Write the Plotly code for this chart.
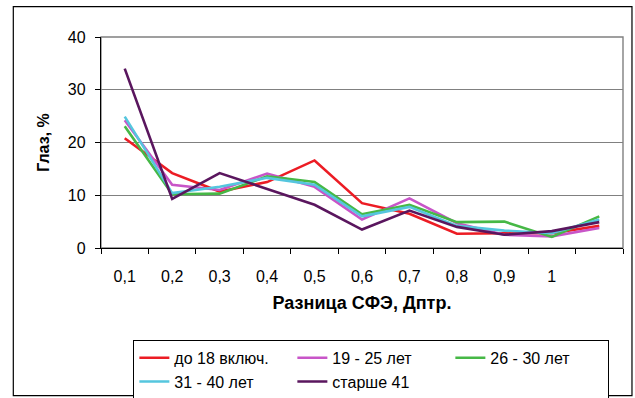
import plotly.graph_objects as go

# Difference in spherical equivalent (dioptres), one category per step
x_labels = ['0,1', '0,2', '0,3', '0,4', '0,5', '0,6', '0,7', '0,8', '0,9', '1', '']
positions = list(range(len(x_labels)))

# Share of eyes (%) per age group
age_to_18 = [20.8, 14.2, 10.7, 12.5, 16.6, 8.5, 6.5, 2.7, 2.8, 2.8, 4.2]
age_19_25 = [24.2, 12.0, 11.0, 14.1, 11.6, 5.4, 9.4, 4.7, 2.5, 2.2, 3.8]
age_26_30 = [23.1, 10.2, 10.3, 13.6, 12.5, 6.4, 8.2, 4.9, 5.0, 2.1, 6.0]
age_31_40 = [24.9, 10.4, 11.6, 13.3, 12.0, 6.0, 7.8, 4.2, 3.3, 2.8, 5.4]
age_over_41 = [34.0, 9.3, 14.2, 11.2, 8.2, 3.5, 7.1, 4.0, 2.5, 3.2, 4.9]

series = [
    ('до 18 включ.', age_to_18, '#ec1c24'),
    ('19 - 25 лет', age_19_25, '#c855c8'),
    ('26 - 30 лет', age_26_30, '#46b846'),
    ('31 - 40 лет', age_31_40, '#55c6de'),
    ('старше 41', age_over_41, '#5a165e'),
]

FONT = 'Liberation Sans, Arial, sans-serif'

fig = go.Figure()
for name, values, color in series:
    fig.add_trace(go.Scatter(
        x=positions, y=values, name=name, mode='lines',
        line=dict(color=color, width=2.6),
    ))

fig.update_layout(
    width=635, height=398,
    margin=dict(l=101, r=12, t=37, b=150, autoexpand=False),
    paper_bgcolor='white', plot_bgcolor='white',
    font=dict(family=FONT, size=16, color='black'),
    showlegend=True,
    legend=dict(
        orientation='h',
        x=0.062, y=-0.435, xanchor='left', yanchor='top',
        entrywidth=113, entrywidthmode='pixels',
        bgcolor='white', bordercolor='black', borderwidth=1,
        font=dict(family=FONT, size=16, color='black'),
        itemwidth=30, tracegroupgap=0,
    ),
    xaxis=dict(
        range=[-0.5, len(x_labels) - 0.5],
        tickmode='array', tickvals=positions, ticktext=x_labels,
        ticks='', showgrid=False, zeroline=False,
        showline=True, linecolor='black', linewidth=1.3,
        tickfont=dict(size=16, family=FONT, color='black'),
        ticklabelstandoff=14,
        minor=dict(
            tickmode='array',
            tickvals=[p + 0.5 for p in positions[:-1]] + [-0.5, len(x_labels) - 0.5],
            ticks='outside', ticklen=5, tickcolor='black', tickwidth=1.3,
            showgrid=False,
        ),
        title=dict(text='<b>Разница СФЭ, Дптр.</b>',
                   font=dict(size=18, family=FONT, color='black'), standoff=12),
    ),
    yaxis=dict(
        range=[0, 40], tickmode='linear', tick0=0, dtick=10,
        ticks='outside', ticklen=5, tickcolor='black', tickwidth=1.3,
        showgrid=True, gridcolor='#808080', gridwidth=1.4,
        zeroline=False, showline=True, linecolor='black', linewidth=1.3,
        tickfont=dict(size=16, family=FONT, color='black'),
        ticklabelstandoff=6,
        title=dict(text='<b>Глаз, %</b>',
                   font=dict(size=16, family=FONT, color='black'), standoff=14),
    ),
    shapes=[
        # plot area frame
        dict(type='rect', xref='paper', yref='paper', x0=0, x1=1, y0=0, y1=1,
             line=dict(color='#808080', width=1.4), layer='below'),
        # chart area frame
        dict(type='rect', xref='paper', yref='paper',
             x0=-0.168, x1=1.0172, y0=-0.70, y1=1.1436,
             line=dict(color='black', width=1.2), layer='below'),
    ],
)

fig.write_html('out.html')
